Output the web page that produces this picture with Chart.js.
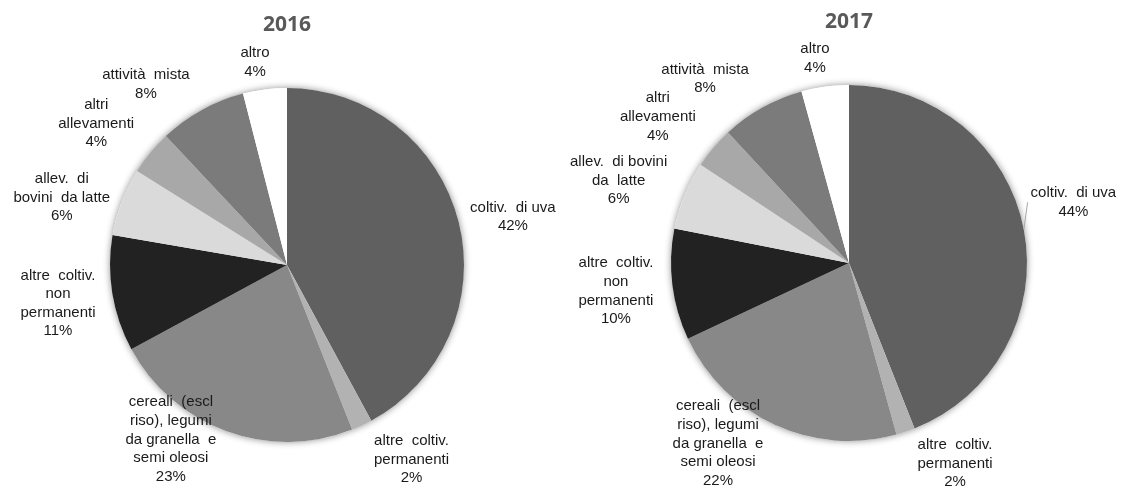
<!DOCTYPE html>
<html>
<head>
<meta charset="utf-8">
<title>Aziende per orientamento produttivo 2016-2017</title>
<script src="https://cdn.jsdelivr.net/npm/chart.js@4.4.1/dist/chart.umd.min.js"></script>
<style>
    html, body { margin: 0; padding: 0; background: #fff; }
    #wrap { position: relative; width: 1121px; height: 488px; }
    .box { position: absolute; top: 0; height: 488px; }
    #box2016 { left: 0; width: 560px; }
    #box2017 { left: 560px; width: 561px; }
</style>
</head>
<body>
<div id="wrap">
    <div class="box" id="box2016"><canvas id="chart2016"></canvas></div>
    <div class="box" id="box2017"><canvas id="chart2017"></canvas></div>
</div>

<script>
// ---------- Data ----------
const categories = [
    "coltiv. di uva",
    "altre coltiv. permanenti",
    "cereali (escl riso), legumi da granella e semi oleosi",
    "altre coltiv. non permanenti",
    "allev. di bovini da latte",
    "altri allevamenti",
    "attività mista",
    "altro"
];

// share of farms (%)
const values2016 = [42.1, 1.9, 23.1, 10.6, 6.2, 4.1, 8.0, 4.0];
const values2017 = [44.0, 1.7, 22.3, 10.1, 6.2, 3.8, 7.6, 4.3];

// label text as it is wrapped in each chart
const lines2016 = [
    ["coltiv.  di uva"],
    ["altre  coltiv.", "permanenti"],
    ["cereali  (escl", "riso), legumi", "da granella  e", "semi oleosi"],
    ["altre  coltiv.", "non", "permanenti"],
    ["allev.  di", "bovini  da latte"],
    ["altri", "allevamenti"],
    ["attività  mista"],
    ["altro"]
];
const lines2017 = [
    ["coltiv.  di uva"],
    ["altre  coltiv.", "permanenti"],
    ["cereali  (escl", "riso), legumi", "da granella  e", "semi oleosi"],
    ["altre  coltiv.", "non", "permanenti"],
    ["allev.  di bovini", "da  latte"],
    ["altri", "allevamenti"],
    ["attività  mista"],
    ["altro"]
];

// ---------- Styles / layout ----------
const sliceColors = ["#606060", "#b2b2b2", "#888888", "#222222", "#dadada", "#a8a8a8", "#7b7b7b", "#ffffff"];

// small hand adjustments of the label blocks (px), like Excel's best fit
const nudge2016 = [[0, 9], [28, -12], [-32, -57], [-2, 1], [1, 19], [-10, 7], [-33, 16], [-6, 3]];
const nudge2017 = [[-5, -17], [34, -14], [-27, -46], [-5, 0], [-5, 10], [-12, 6], [-34, 13], [-6, 2]];

// ---------- Plugin: soft shadow + outside labels ----------
const pieLook = {
    id: "pieLook",
    beforeDatasetsDraw(chart) {
        const arc = chart.getDatasetMeta(0).data[0];
        const ctx = chart.ctx;
        ctx.save();
        ctx.shadowColor = "rgba(0,0,0,0.45)";
        ctx.shadowBlur = 7;
        ctx.fillStyle = "#fff";
        ctx.beginPath();
        ctx.arc(arc.x, arc.y, arc.outerRadius, 0, Math.PI * 2);
        ctx.fill();
        ctx.restore();
    },
    afterDatasetsDraw(chart, args, opts) {
        const ctx = chart.ctx;
        const meta = chart.getDatasetMeta(0);
        const values = chart.data.datasets[0].data;
        const lh = 18.6;

        ctx.save();
        ctx.font = '15px "Liberation Sans", Arial, sans-serif';
        ctx.textAlign = "center";
        ctx.textBaseline = "middle";

        meta.data.forEach((arc, i) => {
            const lines = opts.lines[i].concat(Math.round(values[i]) + "%");
            const w = Math.max(...lines.map(l => ctx.measureText(l).width));
            const h = lines.length * lh;
            const mid = (arc.startAngle + arc.endAngle) / 2;
            const dx = Math.cos(mid);
            const dy = Math.sin(mid);
            const ext = Math.abs(dx) * w / 2 + Math.abs(dy) * h / 2;
            const d = arc.outerRadius + 10 + ext;
            const n = opts.nudge[i] || [0, 0];
            const cx = arc.x + dx * d + n[0];
            const cy = arc.y + dy * d + n[1];

            if (opts.leaders.includes(i)) {
                ctx.strokeStyle = "#a6a6a6";
                ctx.lineWidth = 1;
                ctx.beginPath();
                ctx.moveTo(arc.x + dx * arc.outerRadius, arc.y + dy * arc.outerRadius);
                ctx.lineTo(cx - w / 2 - 3, cy);
                ctx.stroke();
            }

            ctx.fillStyle = "#1a1a1a";
            lines.forEach((l, k) => {
                ctx.fillText(l, cx, cy - h / 2 + lh * (k + 0.5));
            });
        });
        ctx.restore();
    }
};

// ---------- Chart builder ----------
function makePie(id, title, values, lines, nudge, leaders, pad, titleTop) {
    const ctx = document.getElementById(id).getContext("2d");
    return new Chart(ctx, {
        type: "pie",
        data: {
            labels: categories,
            datasets: [{
                data: values,
                backgroundColor: sliceColors,
                borderWidth: 0
            }]
        },
        options: {
            responsive: true,
            maintainAspectRatio: false,
            animation: false,
            layout: { padding: pad },
            plugins: {
                legend: { display: false },
                tooltip: { enabled: false },
                title: {
                    display: true,
                    text: title,
                    color: "#595959",
                    font: { family: '"Open Sans", sans-serif', size: 21, weight: "bold", lineHeight: 1.2 },
                    padding: { top: titleTop, bottom: 50.8 }
                },
                pieLook: { lines: lines, nudge: nudge, leaders: leaders }
            }
        },
        plugins: [pieLook]
    });
}

makePie("chart2016", "2016", values2016, lines2016, nudge2016, [],
    { left: 110, right: 96, top: 0, bottom: 46 }, 12);
makePie("chart2017", "2017", values2017, lines2017, nudge2017, [0],
    { left: 111, right: 94, top: 0, bottom: 47 }, 9);
</script>
</body>
</html>
